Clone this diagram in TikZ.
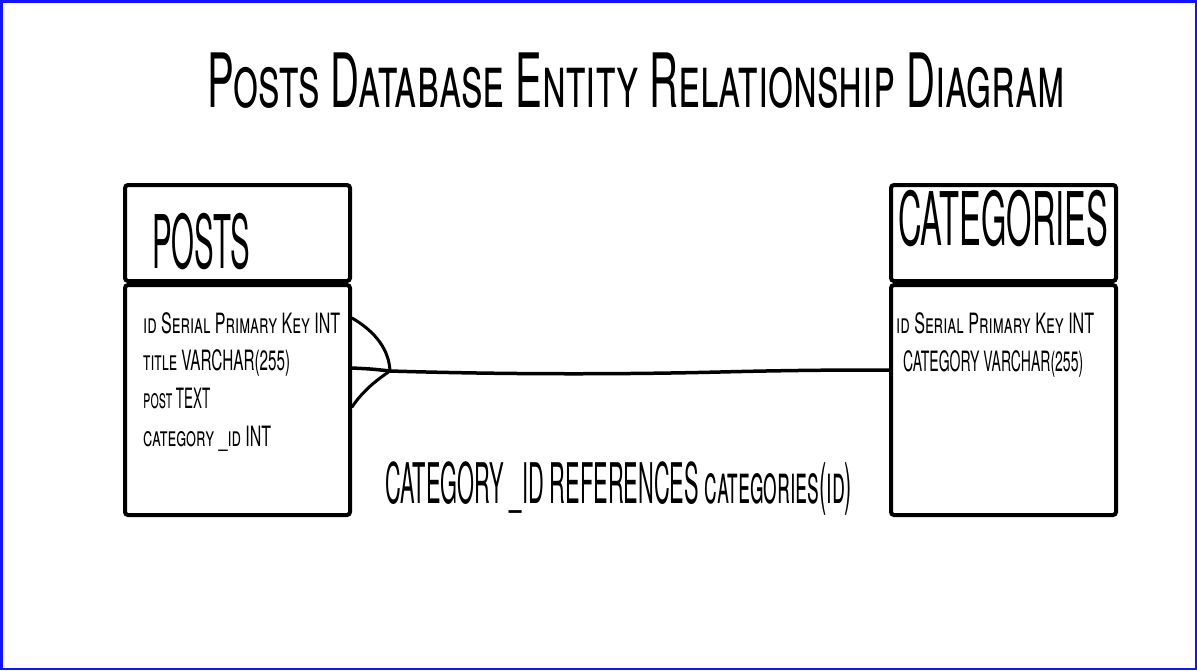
\documentclass[tikz,border=0pt]{standalone}
\usepackage{fontspec}
\setmainfont{TeX Gyre Heros}
\usepackage{graphicx}
\usetikzlibrary{positioning}

% squeeze a text to a given width, keeping its height
\newcommand\squeeze[2]{\resizebox{#1pt}{\height}{#2}}

\begin{document}
\begin{tikzpicture}
  [x=1pt,y=-1pt,
   entity/.style={draw,line width=4pt,rounded corners=3pt,inner sep=0pt,minimum width=225pt},
   heading/.style={anchor=base west,inner sep=0pt,font=\fontsize{74}{80}\selectfont},
   field/.style={anchor=base west,inner sep=0pt,font=\fontsize{28}{30}\selectfont\scshape},
   link/.style={line width=3.5pt,line cap=round}]

  \useasboundingbox (0,0) rectangle (1197,670);
  \draw[line width=2.5pt,color={rgb,255:red,20;green,20;blue,250}]
    (1.25,1.25) rectangle (1195.75,668.75);

  \node[heading,font=\fontsize{75}{80}\selectfont\scshape] (title) at (207,107)
    {\squeeze{858}{Posts Database Entity Relationship Diagram}};

  % posts table
  \node[entity,minimum height=96pt]                          (postshead) at (237.5,233) {};
  \node[entity,minimum height=230pt,below=0pt of postshead]  (postsbody) {};
  \node[heading] (postsname) at (152,268) {\squeeze{98}{POSTS}};
  \node[field] (postsid)    at (143,333) {\squeeze{197}{id Serial Primary Key INT}};
  \node[field] (poststitle) at (143,370) {\squeeze{147}{title VARCHAR(255)}};
  \node[field] (postspost)  at (143,408) {\squeeze{67}{post TEXT}};
  \node[field] (postscat)   at (143,446) {\squeeze{128}{category \_id INT}};

  % categories table
  \node[entity,minimum height=96pt]                          (cathead) at (1003.5,233) {};
  \node[entity,minimum height=230pt,below=0pt of cathead]    (catbody) {};
  \node[heading] (catname) at (898,245) {\squeeze{210}{CATEGORIES}};
  \node[field] (catid)   at (896,333) {\squeeze{198}{id Serial Primary Key INT}};
  \node[field] (catcat)  at (903,371) {\squeeze{180}{CATEGORY VARCHAR(255)}};

  % relation, many posts to one category
  \coordinate (fork) at (390,371);
  \draw[link] (postsbody.east |- 0,368) .. controls (372,369) .. (fork)
    .. controls (520,375) and (640,374) .. (720,372)
    .. controls (800,370) and (850,370) .. (catbody.west |- 0,370);
  \draw[link,line width=3pt] (postsbody.east |- 0,318) .. controls (376,332) and (389,350) .. (fork);
  \draw[link,line width=3pt] (postsbody.east |- 0,407) .. controls (362,392) and (375,381) .. (fork);

  \node[heading,font=\fontsize{56}{60}\selectfont\scshape] (reflabel) at (385,503)
    {\squeeze{467}{CATEGORY \_ID REFERENCES categories(id)}};
\end{tikzpicture}
\end{document}
